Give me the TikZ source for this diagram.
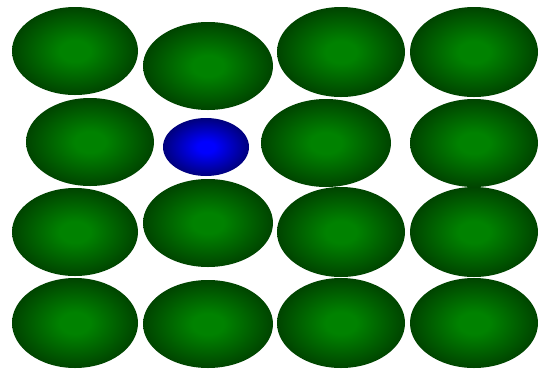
\documentclass[tikz,border=0pt]{standalone}
\definecolor{verdeclaro}{RGB}{0,130,0}
\definecolor{verdeoscuro}{RGB}{0,68,0}
\definecolor{azulclaro}{RGB}{0,0,255}
\definecolor{azuloscuro}{RGB}{0,0,125}
\pgfdeclareradialshading{bolaverde}{\pgfpoint{0bp}{0bp}}{color(0bp)=(verdeclaro); color(6bp)=(verdeclaro); color(25bp)=(verdeoscuro); color(50bp)=(verdeoscuro)}
\pgfdeclareradialshading{bolaazul}{\pgfpoint{0bp}{0bp}}{color(0bp)=(azulclaro); color(5bp)=(azulclaro); color(25bp)=(azuloscuro); color(50bp)=(azuloscuro)}
\tikzset{
  celda/.style={shading=bolaverde},
  intruso/.style={shading=bolaazul}
}
\begin{document}
\begin{tikzpicture}[x=1pt,y=-1pt]
    \useasboundingbox (0,0) rectangle (539,368);
    % Fila 1
    \shade[celda] (75,51) ellipse (63 and 44);
    \shade[celda] (208,66) ellipse (65 and 44);
    \shade[celda] (341,52) ellipse (64 and 45);
    \shade[celda] (474,52) ellipse (64 and 45);
    % Fila 2
    \shade[celda] (90,142) ellipse (64 and 44);
    \shade[intruso] (206,147) ellipse (43 and 29); % Azul
    \shade[celda] (326,143) ellipse (65 and 44);
    \shade[celda] (474,143) ellipse (64 and 44);
    % Fila 3
    \shade[celda] (75,232) ellipse (63 and 44);
    \shade[celda] (208,223) ellipse (65 and 44);
    \shade[celda] (341,232) ellipse (64 and 45);
    \shade[celda] (474,232) ellipse (64 and 45);
    % Fila 4
    \shade[celda] (75,323) ellipse (63 and 45);
    \shade[celda] (208,324) ellipse (65 and 44);
    \shade[celda] (341,323) ellipse (64 and 45);
    \shade[celda] (474,323) ellipse (64 and 45);
\end{tikzpicture}
\end{document}
